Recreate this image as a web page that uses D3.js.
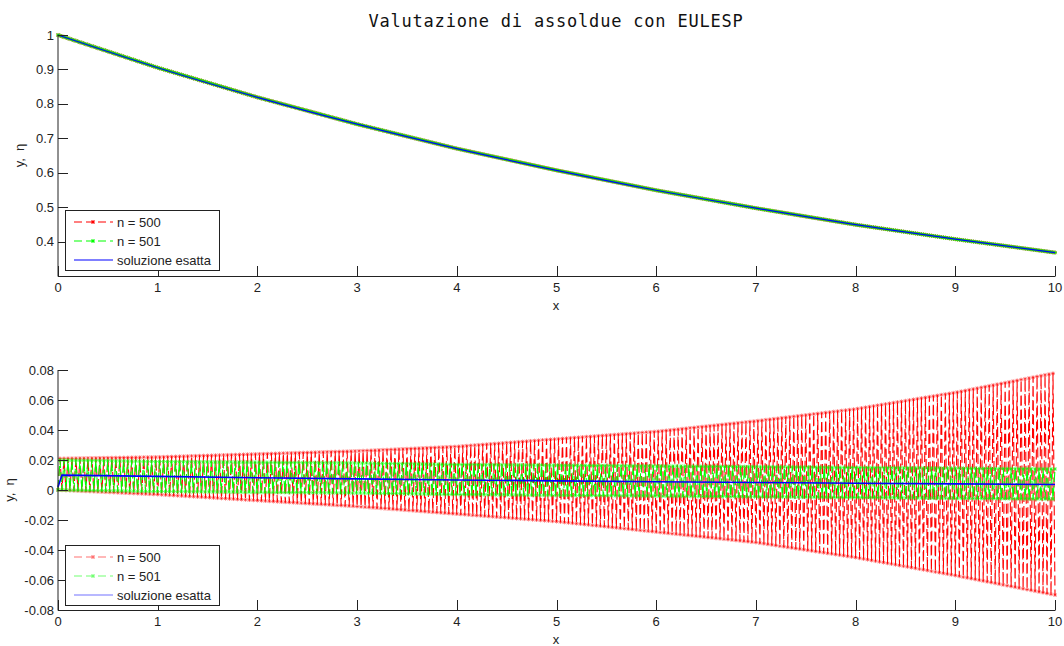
<!DOCTYPE html>
<html>
<head>
<meta charset="utf-8">
<script src="https://cdn.jsdelivr.net/npm/d3@7"></script>
<style>
  body { margin: 0; background: #fff; }
  svg { display: block; font-family: "Liberation Sans", Arial, sans-serif; }
</style>
</head>
<body>
<div id="container"></div>
<script>
const { d3 } = window;

const TITLE = 'Valutazione di assoldue con EULESP';
const xKnots = [0, 1, 2, 3, 4, 5, 6, 7, 8, 9, 10];
const xTicks = [0, 1, 2, 3, 4, 5, 6, 7, 8, 9, 10];
const topYTicks = [0.4, 0.5, 0.6, 0.7, 0.8, 0.9, 1];
const topYLabels = ['0.4', '0.5', '0.6', '0.7', '0.8', '0.9', '1'];
const botYTicks = [-0.08, -0.06, -0.04, -0.02, 0, 0.02, 0.04, 0.06, 0.08];
const botYLabels = ['-0.08', '-0.06', '-0.04', '-0.02', '0', '0.02', '0.04', '0.06', '0.08'];
const legendNames = ['n = 500', 'n = 501', 'soluzione esatta'];
const steps = [500, 501];

// top panel: all three curves sit on top of each other
const topExact = [1, 0.905, 0.819, 0.741, 0.670, 0.607, 0.549, 0.497, 0.449, 0.407, 0.368];

// bottom panel: envelopes of the oscillating solutions, read at x = 0..10
const redUpper = [0.021, 0.022, 0.024, 0.026, 0.029, 0.034, 0.039, 0.046, 0.054, 0.065, 0.078];
const redLower = [0.000, -0.003, -0.007, -0.011, -0.016, -0.021, -0.028, -0.035, -0.045, -0.057, -0.070];
const greenUpper = [0.020, 0.019, 0.0185, 0.018, 0.017, 0.0165, 0.016, 0.0155, 0.015, 0.0145, 0.014];
const greenLower = [0.000, -0.001, -0.0015, -0.002, -0.003, -0.0035, -0.004, -0.0045, -0.005, -0.0055, -0.006];
const botExactX = [0, 0.04, 1, 2, 3, 4, 5, 6, 7, 8, 9, 10];
const botExact = [0.002, 0.0099, 0.0091, 0.0082, 0.0074, 0.0067, 0.0061, 0.0055, 0.0050, 0.0045, 0.0041, 0.0037];

const RED = '#ff0000';
const GREEN = '#00ff00';
const BLUE = '#0000ff';
const STAR = 'M-2,0H2M0,-2V2M-1.5,-1.5L1.5,1.5M-1.5,1.5L1.5,-1.5';

const svg = d3.select('#container').append('svg')
  .attr('width', 1064)
  .attr('height', 646);

const x = d3.scaleLinear([0, 10], [58, 1055]);

function smooth(n) {
  const f = d3.scaleLinear(xKnots, topExact);
  return d3.range(n + 1).map((k) => { const t = 10 * k / n; return [t, f(t)]; });
}

function zigzag(n, upper, lower) {
  const up = d3.scaleLinear(xKnots, upper);
  const lo = d3.scaleLinear(xKnots, lower);
  return d3.range(n + 1).map((k) => { const t = 10 * k / n; return [t, k % 2 ? up(t) : lo(t)]; });
}

function drawAxes(y, ticks, labels, yBottom, yTop, ylabelX) {
  const g = svg.append('g').attr('stroke', '#222').attr('fill', 'none').attr('stroke-width', 1);
  g.append('line').attr('x1', 58).attr('x2', 58).attr('y1', yTop).attr('y2', yBottom + 0.5);
  g.append('line').attr('x1', 58).attr('x2', 1055.5).attr('y1', yBottom + 0.5).attr('y2', yBottom + 0.5);
  g.selectAll('.yt').data(ticks).join('line')
    .attr('x1', 58).attr('x2', 68)
    .attr('y1', (d) => Math.round(y(d)) + 0.5).attr('y2', (d) => Math.round(y(d)) + 0.5);
  g.selectAll('.xt').data(xTicks).join('line')
    .attr('x1', (d) => Math.round(x(d)) + 0.5).attr('x2', (d) => Math.round(x(d)) + 0.5)
    .attr('y1', yBottom).attr('y2', yBottom - 10);

  const t = svg.append('g').attr('font-size', 13).attr('fill', '#222');
  t.selectAll('.yl').data(ticks).join('text')
    .attr('x', 54).attr('y', (d) => y(d) + 4.5)
    .attr('text-anchor', 'end')
    .text((d, i) => labels[i]);
  t.selectAll('.xl').data(xTicks).join('text')
    .attr('x', (d) => x(d)).attr('y', yBottom + 16)
    .attr('text-anchor', 'middle')
    .text((d) => d);
  t.append('text').attr('x', 556).attr('y', yBottom + 34).attr('text-anchor', 'middle').text('x');
  t.append('text')
    .attr('transform', `translate(${ylabelX},${(yTop + yBottom) / 2}) rotate(-90)`)
    .attr('text-anchor', 'middle')
    .style('white-space', 'pre')
    .text('y,  η');
}

function drawSeries(g, y, pts, color, opacity, markerOpacity, width) {
  const line = d3.line().x((d) => x(d[0])).y((d) => y(d[1]));
  g.append('path')
    .attr('d', line(pts))
    .attr('fill', 'none')
    .attr('stroke', color)
    .attr('stroke-opacity', opacity)
    .attr('stroke-width', width)
    .attr('stroke-dasharray', '10,4');
  g.append('g').selectAll('path').data(pts).join('path')
    .attr('transform', (d) => `translate(${x(d[0])},${y(d[1])})`)
    .attr('d', STAR)
    .attr('fill', 'none')
    .attr('stroke', color)
    .attr('stroke-opacity', markerOpacity)
    .attr('stroke-width', 1);
}

function drawLegend(top, fade) {
  const g = svg.append('g');
  g.append('rect').attr('x', 65.5).attr('y', top + 0.5).attr('width', 154).attr('height', 60)
    .attr('fill', '#fff').attr('stroke', '#222');
  const colors = [RED, GREEN, BLUE];
  legendNames.forEach((name, i) => {
    const cy = top + 12 + i * 19;
    const row = g.append('g').attr('opacity', fade);
    row.append('line').attr('x1', 74).attr('x2', 113).attr('y1', cy).attr('y2', cy)
      .attr('stroke', colors[i]).attr('stroke-width', 1.2)
      .attr('stroke-dasharray', i < 2 ? '8,4' : null);
    if (i < 2) {
      row.append('path').attr('transform', `translate(93,${cy})`).attr('d', STAR)
        .attr('fill', 'none').attr('stroke', colors[i]);
    }
    g.append('text').attr('x', 117).attr('y', cy + 4.5).attr('font-size', 13).attr('fill', '#222').text(name);
  });
}

function drawTop() {
  const y = d3.scaleLinear([0.3, 1], [276, 35]);
  const g = svg.append('g');
  drawSeries(g, y, smooth(steps[0]), RED, 0.9, 0.7, 1);
  drawSeries(g, y, smooth(steps[1]), GREEN, 0.9, 0.7, 1);
  g.append('path')
    .attr('d', d3.line().x((d, i) => x(xKnots[i])).y((d) => y(d)).curve(d3.curveMonotoneX)(topExact))
    .attr('fill', 'none').attr('stroke', BLUE).attr('stroke-width', 1.2);
  drawAxes(y, topYTicks, topYLabels, 276, 35, 24);
  drawLegend(210, 1);
}

function drawBottom() {
  const y = d3.scaleLinear([-0.08, 0.08], [610, 370]);
  const g = svg.append('g');
  drawSeries(g, y, zigzag(steps[0], redUpper, redLower), RED, 1, 0.5, 1.1);
  drawSeries(g, y, zigzag(steps[1], greenUpper, greenLower), GREEN, 1, 0.6, 1.1);
  g.append('path')
    .attr('d', d3.line().x((d, i) => x(botExactX[i])).y((d) => y(d))(botExact))
    .attr('fill', 'none').attr('stroke', BLUE).attr('stroke-width', 1.6);
  drawAxes(y, botYTicks, botYLabels, 610, 370, 14);
  drawLegend(545, 0.55);
}

function drawTitle() {
  svg.append('text')
    .attr('x', 556).attr('y', 27)
    .attr('text-anchor', 'middle')
    .attr('font-family', '"DejaVu Sans Mono", monospace')
    .attr('font-size', 17)
    .attr('letter-spacing', 0.8)
    .attr('fill', '#111')
    .text(TITLE);
}

function boot() {
  drawTop();
  drawBottom();
  drawTitle();
}

boot();
</script>
</body>
</html>
